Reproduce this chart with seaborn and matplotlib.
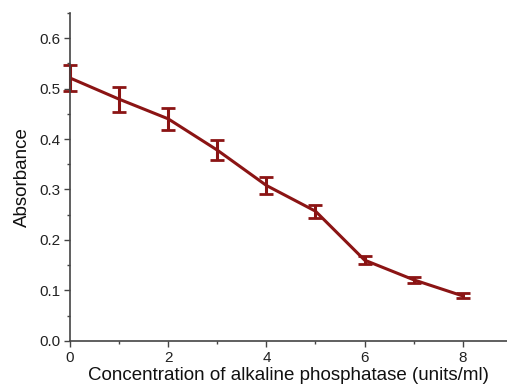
import matplotlib
matplotlib.use("Agg")
import matplotlib.pyplot as plt
import seaborn as sns
import pandas as pd
from matplotlib.ticker import MultipleLocator

concentration = [0, 1, 2, 3, 4, 5, 6, 7, 8]
absorbance = [0.521, 0.479, 0.440, 0.378, 0.308, 0.257, 0.160, 0.121, 0.089]
error = [0.026, 0.025, 0.022, 0.020, 0.017, 0.013, 0.008, 0.006, 0.005]

sns.set_theme(style="ticks")
plt.rcParams['font.family'] = ['Liberation Sans', 'DejaVu Sans']

color = "#8B1414"
df = pd.DataFrame({"x": concentration, "y": absorbance, "e": error})

fig = plt.figure(figsize=(5.07, 3.90), dpi=100)
ax = fig.add_axes([0.138, 0.126, 0.862, 0.841])

sns.lineplot(data=df, x="x", y="y", ax=ax, color=color, linewidth=2.2)
ax.errorbar(df["x"], df["y"], yerr=df["e"], fmt="none", ecolor=color,
            elinewidth=2.2, capsize=5, capthick=2, clip_on=False)

ax.set_xlim(0, 8.9)
ax.set_ylim(0, 0.65)
ax.xaxis.set_major_locator(MultipleLocator(2))
ax.xaxis.set_minor_locator(MultipleLocator(1))
ax.yaxis.set_major_locator(MultipleLocator(0.1))
ax.yaxis.set_minor_locator(MultipleLocator(0.05))
ax.yaxis.set_major_formatter(matplotlib.ticker.FormatStrFormatter("%.1f"))

for s in ["top", "right"]:
    ax.spines[s].set_visible(False)
for s in ["left", "bottom"]:
    ax.spines[s].set_color("#444444")
    ax.spines[s].set_linewidth(1.2)

ax.tick_params(which="major", direction="out", length=4, width=1, color="#444444",
               labelsize=11, labelcolor="#222222", pad=3)
ax.tick_params(which="minor", direction="out", length=2.5, width=1, color="#444444")

ax.set_xlabel("Concentration of alkaline phosphatase (units/ml)", fontsize=13.5, color="#111111", labelpad=2)
ax.set_ylabel("Absorbance", fontsize=13.5, color="#111111", labelpad=6)

fig.savefig("out.png", dpi=100)
